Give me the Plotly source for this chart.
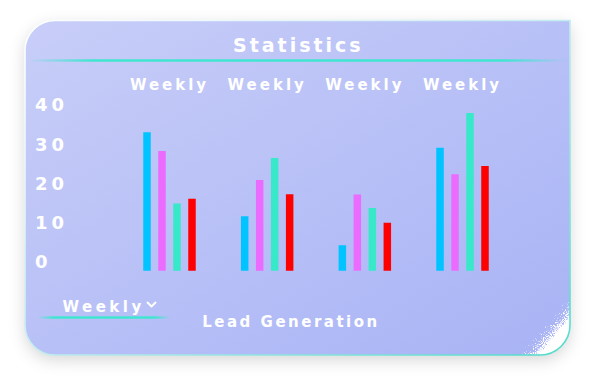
import base64
import plotly.graph_objects as go

# ---------------- data ----------------
group_pos = [0, 1, 2, 3]
tick_labels = ["Weekly", "Weekly", "Weekly", "Weekly"]
y_ticks = [0, 10, 20, 30, 40]
series_names = ["Series A", "Series B", "Series C", "Series D"]
series_a = [35.3, 13.9, 6.5, 31.3]
series_b = [30.5, 23.1, 19.4, 24.6]
series_c = [17.1, 28.7, 16.0, 40.2]
series_d = [18.3, 19.5, 12.2, 26.7]
colors = ["#00c4ff", "#ec6bff", "#37e8c9", "#ff0000"]

W, H = 595, 384
FONT = "DejaVu Sans"

# ---------------- decorative card (svg background) ----------------
card = ("M25,50.5 A30,30 0 0 1 55,20.5 L570,20.5 L570,325 "
        "A30,30 0 0 1 540,355 L55,355 A30,30 0 0 1 25,325 Z")
svg = f"""<svg xmlns='http://www.w3.org/2000/svg' width='{W}' height='{H}' viewBox='0 0 {W} {H}'>
<defs>
 <linearGradient id='bg' x1='0' y1='0' x2='1' y2='1'>
  <stop offset='0' stop-color='#c8cef8'/><stop offset='1' stop-color='#a8b3f5'/>
 </linearGradient>
 <linearGradient id='bd' x1='0' y1='0' x2='1' y2='1'>
  <stop offset='0' stop-color='#ffffff'/><stop offset='0.45' stop-color='#cdeef2'/>
  <stop offset='1' stop-color='#4fdccb'/>
 </linearGradient>
 <linearGradient id='ln' x1='0' y1='0' x2='1' y2='0'>
  <stop offset='0' stop-color='#3ce6cf' stop-opacity='0'/>
  <stop offset='0.12' stop-color='#3ce6cf' stop-opacity='1'/>
  <stop offset='0.88' stop-color='#3ce6cf' stop-opacity='1'/>
  <stop offset='1' stop-color='#3ce6cf' stop-opacity='0'/>
 </linearGradient>
 <linearGradient id='pg' gradientUnits='userSpaceOnUse' x1='517' y1='347.8' x2='537' y2='365.1'>
  <stop offset='0' stop-color='#ffffff' stop-opacity='0'/>
  <stop offset='1' stop-color='#ffffff' stop-opacity='1'/>
 </linearGradient>
 <filter id='sh' x='-10%' y='-15%' width='120%' height='140%'>
  <feDropShadow dx='0' dy='5' stdDeviation='8' flood-color='#000' flood-opacity='0.16'/>
 </filter>
 <filter id='nz' x='0' y='0' width='100%' height='100%'>
  <feTurbulence type='fractalNoise' baseFrequency='1.1' numOctaves='1' seed='4' result='t'/>
  <feComposite in='SourceGraphic' in2='t' operator='arithmetic' k1='0' k2='1' k3='1.4' k4='-0.7' result='m'/>
  <feColorMatrix in='m' type='matrix' values='0 0 0 0 1  0 0 0 0 1  0 0 0 0 1  0 0 0 4 -2'/>
 </filter>
 <clipPath id='cp'><path d='{card}'/></clipPath>
</defs>
<path d='{card}' fill='url(#bg)' filter='url(#sh)'/>
<g clip-path='url(#cp)'>
 <rect x='495' y='270' width='80' height='90' fill='url(#pg)' filter='url(#nz)'/>
 <polygon points='537,357 572,316 572,357' fill='#ffffff'/>
</g>
<path d='{card}' fill='none' stroke='url(#bd)' stroke-width='1.6'/>
<rect x='28' y='59.3' width='538' height='2.4' fill='url(#ln)'/>
<rect x='38' y='316.3' width='132' height='2.4' fill='url(#ln)'/>
<polyline points='147.5,302.5 151.5,306.5 155.5,302.5' fill='none' stroke='#ffffff' stroke-width='2' stroke-linecap='round' stroke-linejoin='round'/>
</svg>"""
bg_src = "data:image/svg+xml;base64," + base64.b64encode(svg.encode()).decode()

# ---------------- figure ----------------
fig = go.Figure()
for name, vals, col in zip(series_names, [series_a, series_b, series_c, series_d], colors):
    fig.add_trace(go.Bar(x=group_pos, y=vals, name=name, marker=dict(color=col, line=dict(width=0))))

# axis geometry (pixels)
x_left, x_right = 32, 565
c0, pitch = 169.5, 97.67
r0 = -(c0 - x_left) / pitch
r1 = r0 + (x_right - x_left) / pitch
y_zero = 270.7
px_per_unit = 3.925
y_min, y_max = -4, 50
y_bottom = y_zero - y_min * px_per_unit
y_top = y_zero - y_max * px_per_unit
x_axis_line = 93.0

fig.update_layout(
    width=W, height=H,
    margin=dict(l=0, r=0, t=0, b=0),
    paper_bgcolor="white", plot_bgcolor="rgba(0,0,0,0)",
    showlegend=False,
    barmode="group", bargap=0.386, bargroupgap=0.5,
    font=dict(family=FONT, color="white"),
    xaxis=dict(domain=[x_left / W, x_right / W], range=[r0, r1], side="top",
               anchor="free", position=1 - x_axis_line / H,
               tickvals=group_pos, ticktext=tick_labels, showgrid=False,
               zeroline=False, showline=False, ticks="",
               tickfont=dict(family=FONT, size=15, color="white", weight="bold")),
    yaxis=dict(domain=[1 - y_bottom / H, 1 - y_top / H], range=[y_min, y_max],
               tickvals=y_ticks, showgrid=False, zeroline=False, showline=False,
               ticks="", ticklabelposition="inside top", ticklabelshift=4,
               tickfont=dict(family=FONT, size=18, color="white", weight="bold")),
    images=[dict(source=bg_src, xref="paper", yref="paper", x=0, y=1,
                 sizex=1, sizey=1, xanchor="left", yanchor="top",
                 sizing="stretch", layer="below")],
    annotations=[
        dict(text="Statistics", x=298.5 / W, y=1 - 45 / H, xref="paper", yref="paper",
             showarrow=False, xanchor="center", yanchor="middle",
             font=dict(family=FONT, size=19, color="white", weight="bold")),
        dict(text="Weekly", x=103.5 / W, y=1 - 306.5 / H, xref="paper", yref="paper",
             showarrow=False, xanchor="center", yanchor="middle",
             font=dict(family=FONT, size=15, color="white", weight="bold")),
        dict(text="Lead Generation", x=291 / W, y=1 - 322 / H, xref="paper", yref="paper",
             showarrow=False, xanchor="center", yanchor="middle",
             font=dict(family=FONT, size=15, color="white", weight="bold")),
    ],
)

post = """
document.body.style.margin = '0';
document.body.style.padding = '0';
var gd = document.getElementById('{plot_id}');
function ls(){
  gd.querySelectorAll('.ytick text').forEach(function(e){e.style.letterSpacing='4px';});
  gd.querySelectorAll('.xtick text').forEach(function(e){e.style.letterSpacing='3px';});
  var sp = {'Statistics':'3px','Weekly':'3.5px','Lead Generation':'2.5px'};
  gd.querySelectorAll('.annotation-text').forEach(function(e){
    var t = e.textContent; if (sp[t]) e.style.letterSpacing = sp[t];
  });
}
ls();
if (gd.on) gd.on('plotly_afterplot', ls);
setTimeout(ls, 50);
"""
fig.write_html("out.html", post_script=post, config={"displayModeBar": False})
